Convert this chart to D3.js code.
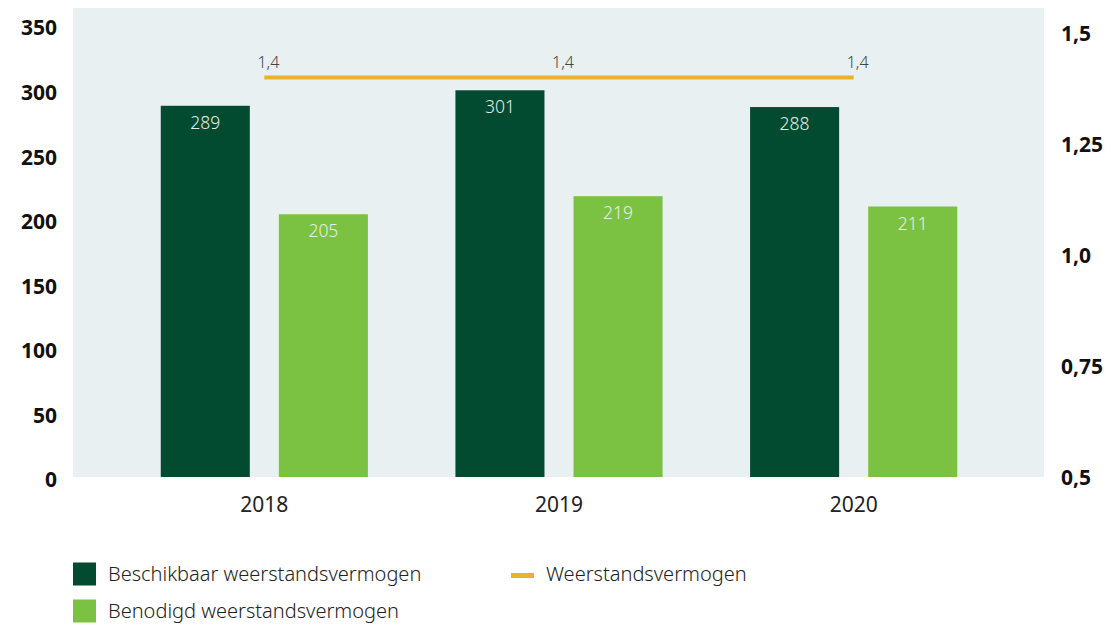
<!DOCTYPE html>
<html>
<head>
<meta charset="utf-8">
<script src="https://cdn.jsdelivr.net/npm/d3@7"></script>
<style>
  body { margin: 0; background: #fff; }
  svg text { font-family: "Noto Sans", "Open Sans", sans-serif; }
</style>
</head>
<body>
<div id="chart"></div>
<script>
// data
var years = ["2018", "2019", "2020"];
var beschikbaar = [289, 301, 288];
var benodigd = [205, 219, 211];
var ratio = [1.4, 1.4, 1.4];
var leftTicks = [0, 50, 100, 150, 200, 250, 300, 350];
var rightTicks = [0.5, 0.75, 1.0, 1.25, 1.5];
var rightTickLabels = ["0,5", "0,75", "1,0", "1,25", "1,5"];
var seriesNames = ["Beschikbaar weerstandsvermogen", "Benodigd weerstandsvermogen", "Weerstandsvermogen"];

var width = 1111, height = 625;
var plot = {left: 73, right: 1044, top: 8, bottom: 477};
var darkGreen = "#024b31", lightGreen = "#7cc242", gold = "#ebb12a", bg = "#e8f0f2";

var svg = d3.select("#chart").append("svg")
    .attr("width", width)
    .attr("height", height);

var x0 = d3.scaleBand().domain(years).range([117, 1001])
    .paddingInner(0.297).paddingOuter(0.1485);
var x1 = d3.scaleBand().domain([0, 1]).range([0, x0.bandwidth()]).paddingInner(0.246);
var yL = d3.scaleLinear().domain([0, 350]).range([479, 27]);
var yR = d3.scaleLinear().domain([0.5, 1.5]).range([plot.bottom, 33]);

// background panel
svg.append("rect")
    .attr("x", plot.left).attr("y", plot.top)
    .attr("width", plot.right - plot.left)
    .attr("height", plot.bottom - plot.top)
    .attr("fill", bg);

var rows = years.map(function (y, i) {
  return {year: y, values: [beschikbaar[i], benodigd[i]], ratio: ratio[i]};
});

var groups = svg.selectAll("g.year").data(rows).enter()
    .append("g").attr("class", "year")
    .attr("transform", function (d) { return "translate(" + x0(d.year) + ",0)"; });

groups.selectAll("rect").data(function (d) { return d.values; }).enter()
    .append("rect")
    .attr("x", function (d, i) { return x1(i); })
    .attr("y", function (d) { return yL(d); })
    .attr("width", x1.bandwidth())
    .attr("height", function (d) { return plot.bottom - yL(d); })
    .attr("fill", function (d, i) { return i === 0 ? darkGreen : lightGreen; });

groups.selectAll("text.val").data(function (d) { return d.values; }).enter()
    .append("text").attr("class", "val")
    .attr("x", function (d, i) { return x1(i) + x1.bandwidth() / 2; })
    .attr("y", function (d) { return yL(d) + 23; })
    .attr("text-anchor", "middle")
    .attr("font-size", 17.5)
    .attr("font-weight", 300)
    .attr("fill", "#e6eee8")
    .text(function (d) { return d; });

// ratio line on right axis
var cx = function (d) { return x0(d.year) + x0.bandwidth() / 2; };
var line = d3.line().x(cx).y(function (d) { return yR(d.ratio); });
svg.append("path")
    .datum(rows)
    .attr("d", line)
    .attr("fill", "none")
    .attr("stroke", gold)
    .attr("stroke-width", 4);

svg.selectAll("text.ratio").data(rows).enter()
    .append("text").attr("class", "ratio")
    .attr("x", function (d) { return cx(d) + 4; })
    .attr("y", function (d) { return yR(d.ratio) - 9; })
    .attr("text-anchor", "middle")
    .attr("font-size", 16)
    .attr("font-weight", 300)
    .attr("fill", "#444")
    .text(function (d) { return String(d.ratio).replace(".", ","); });

// axes
var axL = svg.append("g")
    .attr("transform", "translate(" + (plot.left - 16) + ",0)")
    .call(d3.axisLeft(yL).tickValues(leftTicks).tickSize(0).tickPadding(0));
var axR = svg.append("g")
    .attr("transform", "translate(" + (plot.right + 17) + ",0)")
    .call(d3.axisRight(yR).tickValues(rightTicks).tickSize(0).tickPadding(0)
      .tickFormat(function (d, i) { return rightTickLabels[i]; }));
var axX = svg.append("g")
    .attr("transform", "translate(0," + plot.bottom + ")")
    .call(d3.axisBottom(x0).tickSize(0).tickPadding(0));

[axL, axR, axX].forEach(function (a) {
  a.select(".domain").remove();
  a.selectAll("text").attr("fill", "#111").style("font-family", "'Noto Sans', sans-serif");
});
axL.selectAll("text").attr("font-size", 21).attr("font-weight", 700).attr("dy", "0.38em");
axR.selectAll("text").attr("font-size", 21).attr("font-weight", 700).attr("dy", "0.38em");
axX.selectAll("text").attr("font-size", 21).attr("y", 35).attr("dy", 0).attr("fill", "#222");

// legend
var legend = svg.append("g").attr("class", "legend");
var items = [
  {name: seriesNames[0], type: "rect", color: darkGreen, x: 73, y: 574},
  {name: seriesNames[1], type: "rect", color: lightGreen, x: 73, y: 611},
  {name: seriesNames[2], type: "line", color: gold, x: 511, y: 574}
];
var li = legend.selectAll("g").data(items).enter().append("g")
    .attr("transform", function (d) { return "translate(" + d.x + "," + d.y + ")"; });
li.filter(function (d) { return d.type === "rect"; }).append("rect")
    .attr("y", -11.5).attr("width", 23).attr("height", 23)
    .attr("fill", function (d) { return d.color; });
li.filter(function (d) { return d.type === "line"; }).append("rect")
    .attr("y", -1).attr("width", 23).attr("height", 5)
    .attr("fill", function (d) { return d.color; });
li.append("text")
    .attr("x", 35)
    .attr("dy", "0.35em")
    .attr("font-size", 20)
    .attr("font-weight", 300)
    .attr("fill", "#222")
    .text(function (d) { return d.name; });
</script>
</body>
</html>
